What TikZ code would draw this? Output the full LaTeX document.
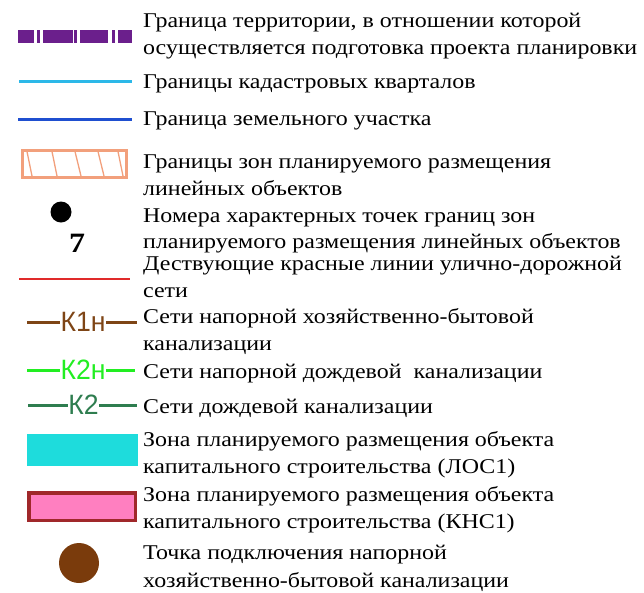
\documentclass[tikz,border=0pt]{standalone}
\usepackage{fontspec}
\setmainfont{Liberation Serif}[FakeStretch=1.14]
\newfontfamily\sansf{Liberation Sans}[FakeStretch=0.95]
\definecolor{purp}{HTML}{6B1F8C}
\definecolor{cyanl}{HTML}{2CB8E8}
\definecolor{bluel}{HTML}{1F4FD0}
\definecolor{salmon}{HTML}{F2A07C}
\definecolor{redl}{HTML}{E02A2A}
\definecolor{brownl}{HTML}{7E4516}
\definecolor{greenl}{HTML}{22EE22}
\definecolor{dgreen}{HTML}{2E7D4F}
\definecolor{turq}{HTML}{1EDCDC}
\definecolor{pinkf}{HTML}{FF7FC0}
\definecolor{pinkb}{HTML}{A0282A}
\definecolor{browndot}{HTML}{7A3B0C}
\tikzset{
  txt/.style={anchor=base west, inner sep=0pt, font=\fontsize{21}{25}\selectfont},
  klabel/.style={inner sep=0.5pt, font=\sansf\fontsize{28}{30}\selectfont},
  kline/.style={line width=3pt}
}
\begin{document}
\begin{tikzpicture}[x=1pt,y=-1pt]
\useasboundingbox (0,0) rectangle (644,592);
% 1 purple dashed boundary
\foreach \a/\b in {18.3/34.3,36.7/40,43.3/72.7,74/77.3,80/108.3,111.7/115,118.3/131.7}
  \fill[purp] (\a,29.5) rectangle (\b,43);
\node[txt] (t1a) at (143,27) {Граница территории, в отношении которой};
\node[txt] (t1b) at (143,54) {осуществляется подготовка проекта планировки};
% 2 cyan line
\draw[cyanl, line width=3pt] (19,81) -- (132,81);
\node[txt] (t2) at (143,88) {Границы кадастровых кварталов};
% 3 blue line
\draw[bluel, line width=3pt] (18,119) -- (132,119);
\node[txt] (t3) at (143,125) {Граница земельного участка};
% 4 hatched rectangle
\draw[salmon, line width=3pt] (22.5,150) rectangle (126.5,177.5);
\foreach \t/\bt in {27/32,52/57,75/81,98/104,118/123}
  \draw[salmon, line width=1.3pt] (\t,151.5) -- (\bt,176);
\node[txt] (t4a) at (143,168) {Границы зон планируемого размещения};
\node[txt] (t4b) at (143,195) {линейных объектов};
% 5 black dot with 7
\fill[black] (61,212) circle (10.5);
\node[anchor=base, inner sep=0pt, font=\bfseries\fontsize{28}{30}\selectfont] (n7) at (77,252) {7};
\node[txt] (t5a) at (143,222) {Номера характерных точек границ зон};
\node[txt] (t5b) at (143,248) {планируемого размещения линейных объектов};
% 6 red line
\draw[redl, line width=2pt] (19,279) -- (130,279);
\node[txt] (t6a) at (143,270) {Дествующие красные линии улично-дорожной};
\node[txt] (t6b) at (143,297) {сети};
% 7 K1n
\node[klabel, text=brownl] (k1) at (83,322) {К1н};
\coordinate (k1l) at (27,322);
\coordinate (k1r) at (137,322);
\draw[kline, brownl] (k1l) -- (k1.west);
\draw[kline, brownl] (k1.east) -- (k1r);
\node[txt] (t7a) at (143,323) {Сети напорной хозяйственно-бытовой};
\node[txt] (t7b) at (143,350) {канализации};
% 8 K2n
\node[klabel, text=greenl] (k2n) at (83,370) {К2н};
\coordinate (k2nl) at (27,370);
\coordinate (k2nr) at (135,370);
\draw[kline, greenl] (k2nl) -- (k2n.west);
\draw[kline, greenl] (k2n.east) -- (k2nr);
\node[txt] (t8) at (143,378) {Сети напорной дождевой\ \ канализации};
% 9 K2
\node[klabel, text=dgreen] (k2) at (83.5,405) {К2};
\coordinate (k2l) at (28,405);
\coordinate (k2r) at (137,405);
\draw[kline, dgreen] (k2l) -- (k2.west);
\draw[kline, dgreen] (k2.east) -- (k2r);
\node[txt] (t9) at (143,413) {Сети дождевой канализации};
% 10 turquoise rect
\fill[turq] (27,434) rectangle (138,466);
\node[txt] (t10a) at (143,446) {Зона планируемого размещения объекта};
\node[txt] (t10b) at (143,473) {капитального строительства (ЛОС1)};
% 11 pink rect
\filldraw[fill=pinkf, draw=pinkb, line width=3.5pt] (28.75,492.75) rectangle (135.25,520.25);
\node[txt] (t11a) at (143,501) {Зона планируемого размещения объекта};
\node[txt] (t11b) at (143,528) {капитального строительства (КНС1)};
% 12 brown dot
\fill[browndot] (79,563) circle (20);
\node[txt] (t12a) at (143,559) {Точка подключения напорной};
\node[txt] (t12b) at (143,587) {хозяйственно-бытовой канализации};
\end{tikzpicture}
\end{document}
